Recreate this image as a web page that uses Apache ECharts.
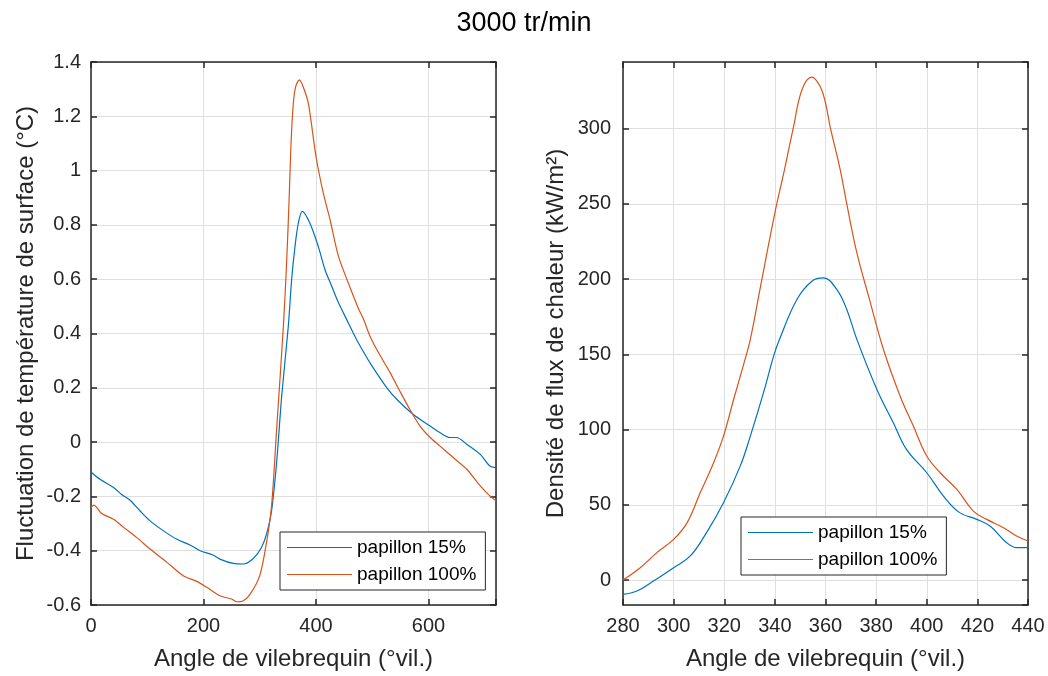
<!DOCTYPE html>
<html>
<head>
<meta charset="utf-8">
<script src="https://cdn.jsdelivr.net/npm/echarts@6/dist/echarts.min.js"></script>
<style>
html,body{margin:0;padding:0;background:#fff;}
#chart{width:1048px;height:676px;}
</style>
</head>
<body>
<div id="chart"></div>
<script>
// ---- Data ----
const seriesNames = ['papillon 15%', 'papillon 100%'];

// Left subplot: surface temperature fluctuation vs crank angle
const leftAngle15 = [0,16,40,55,69,87,105,129,152,176,194,217,229,253,271,289,303,312,321,330,339,350.8,356.7,362.7,368.6,375.7,389,404,416,428,440,457.5,472,481,496,526,544,573,603,620,638,650,668,692,709,720];
const leftTemp15  = [-0.11,-0.137,-0.167,-0.194,-0.213,-0.253,-0.29,-0.327,-0.357,-0.379,-0.40,-0.416,-0.431,-0.447,-0.449,-0.428,-0.388,-0.339,-0.253,-0.075,0.17,0.427,0.599,0.721,0.807,0.85,0.807,0.721,0.635,0.574,0.513,0.439,0.378,0.345,0.292,0.20,0.157,0.102,0.059,0.035,0.017,0.017,-0.008,-0.045,-0.088,-0.094];

const leftAngle100 = [0,5,19,40,58,81,105,135,164,188,206,229,250,259,270,283,300,312,321,330,342,348,352.6,355.6,359.7,364,370.4,377,386.4,400,413,425,440,457.5,475,484,496,508,532,549,567,585,603,620,644,668,692,709,720];
const leftTemp100  = [-0.241,-0.232,-0.263,-0.284,-0.314,-0.351,-0.394,-0.443,-0.492,-0.513,-0.535,-0.566,-0.578,-0.588,-0.585,-0.56,-0.492,-0.37,-0.235,0.047,0.427,0.672,0.917,1.10,1.248,1.31,1.334,1.31,1.248,1.052,0.917,0.819,0.684,0.586,0.494,0.455,0.39,0.341,0.255,0.188,0.12,0.059,0.017,-0.014,-0.057,-0.1,-0.161,-0.198,-0.216];

// Right subplot: heat flux density vs crank angle
const rightAngle15 = [280,285.5,292,300,306.6,313,319.7,326.3,330.3,335.5,339.5,341.8,348.7,354.6,359.2,364.5,368.4,372.4,380.3,386.8,392,400,406.6,413,419.8,425,431.6,435.5,440];
const rightFlux15  = [-9.5,-7.3,-0.7,8.2,16,31.5,51.4,75.7,95.6,124.5,148.8,159.9,186.4,198.6,200.8,193,179.8,159.9,126.7,104.5,86.8,71.3,55.8,44.8,40.3,35.9,24.8,21.5,21.5];

const rightAngle100 = [280,286.8,293.4,300,305.3,310.5,315.8,319.7,323.7,327.6,330.3,334.2,340,343.8,347.4,350.7,354.6,357.9,360,361.8,365.8,368.4,372.4,377.4,382.9,389.5,394.7,400,405.3,411.9,418.4,423.7,430.3,435.5,440];
const rightFlux100  = [0,8.2,18.2,27,38,58,78,95.6,120,143,160,194,244,272.8,301.5,325.9,334.3,328,317.1,301.5,272.8,250,217.4,186.4,153.2,122.2,102.3,82.4,71.3,60.2,45.8,40.3,34.8,29.2,25.9];

const titleText = '3000 tr/min';
const xName = 'Angle de vilebrequin (°vil.)';
const leftYName = 'Fluctuation de température de surface (°C)';
const rightYName = 'Densité de flux de chaleur (kW/m²)';

// ---- Styling ----
const AX = '#262626';
const GRIDC = '#dfdfdf';
const FONT = '"Liberation Sans", Arial, Helvetica, sans-serif';
const BLUE = '#0072BD';
const ORANGE = '#D95319';
const TICKFS = 20;
const NAMEFS = 24;

function zip(a, b) { return a.map((v, i) => [v, b[i]]); }

function mainAxisBase() {
  return {
    axisLine: { show: true, onZero: false, lineStyle: { color: AX, width: 1.5 } },
    axisTick: { show: true, inside: true, length: 6, lineStyle: { color: AX, width: 1.5 } },
    axisLabel: { color: AX, fontSize: TICKFS, fontFamily: FONT, margin: 11 },
    splitLine: { show: true, lineStyle: { color: GRIDC, width: 1 } },
    nameTextStyle: { color: AX, fontSize: NAMEFS, fontFamily: FONT },
    nameLocation: 'middle'
  };
}
function mirrorAxis(extra) {
  return Object.assign({
    axisLine: { show: true, onZero: false, lineStyle: { color: AX, width: 1.5 } },
    axisTick: { show: true, inside: true, length: 6, lineStyle: { color: AX, width: 1.5 } },
    axisLabel: { show: false },
    splitLine: { show: false }
  }, extra);
}

const fmtLeftY = v => {
  const r = Math.round(v * 10) / 10;
  if (Math.abs(v - r) > 1e-6) return '';
  return String(r);
};
const fmtMult = m => v => (Math.abs(v / m - Math.round(v / m)) < 1e-6 ? String(Math.round(v)) : '');

const lxCommon = { type: 'value', min: 0, max: 720, interval: 200 };
const lyCommon = { type: 'value', min: -0.6, max: 1.4, interval: 0.2 };
const rxCommon = { type: 'value', min: 280, max: 440, interval: 20 };
const ryCommon = { type: 'value', min: -16.6, max: 344.3, splitNumber: 7 };

function legendAt(left, top) {
  return {
    orient: 'vertical', left: left, top: top,
    data: seriesNames,
    icon: 'rect',
    itemWidth: 65, itemHeight: 1.2, itemGap: 8,
    padding: [6, 9, 6, 7],
    borderColor: AX, borderWidth: 1, backgroundColor: '#fff',
    textStyle: { color: '#000', fontSize: 19, fontFamily: FONT },
    selectedMode: false
  };
}

const option = {
  animation: false,
  backgroundColor: '#ffffff',
  title: {
    text: titleText, left: 'center', top: 5,
    textStyle: { color: '#000', fontSize: 27, fontWeight: 'normal', fontFamily: FONT }
  },
  grid: [
    { left: 91, top: 62, width: 405, height: 544, containLabel: false },
    { left: 623, top: 62, width: 405, height: 544, containLabel: false }
  ],
  xAxis: [
    Object.assign(mainAxisBase(), lxCommon, { gridIndex: 0, position: 'bottom', name: xName, nameGap: 42,
      axisLabel: { color: AX, fontSize: TICKFS, fontFamily: FONT, margin: 11, formatter: fmtMult(200) } }),
    mirrorAxis(Object.assign({}, lxCommon, { gridIndex: 0, position: 'top' })),
    Object.assign(mainAxisBase(), rxCommon, { gridIndex: 1, position: 'bottom', name: xName, nameGap: 42 }),
    mirrorAxis(Object.assign({}, rxCommon, { gridIndex: 1, position: 'top' }))
  ],
  yAxis: [
    Object.assign(mainAxisBase(), lyCommon, { gridIndex: 0, position: 'left', name: leftYName, nameGap: 53,
      axisLabel: { color: AX, fontSize: TICKFS, fontFamily: FONT, margin: 10, formatter: fmtLeftY } }),
    mirrorAxis(Object.assign({}, lyCommon, { gridIndex: 0, position: 'right' })),
    Object.assign(mainAxisBase(), ryCommon, { gridIndex: 1, position: 'left', name: rightYName, nameGap: 55,
      axisLabel: { color: AX, fontSize: TICKFS, fontFamily: FONT, margin: 12, formatter: fmtMult(50), showMinLabel: false, showMaxLabel: false } }),
    mirrorAxis(Object.assign({}, ryCommon, { gridIndex: 1, position: 'right' }))
  ],
  legend: [legendAt(280, 532), legendAt(741, 517)],
  series: [
    { name: seriesNames[0], type: 'line', xAxisIndex: 0, yAxisIndex: 0, data: zip(leftAngle15, leftTemp15),
      symbol: 'none', smooth: 0.3, lineStyle: { color: BLUE, width: 1.2 }, itemStyle: { color: BLUE }, z: 3 },
    { name: seriesNames[1], type: 'line', xAxisIndex: 0, yAxisIndex: 0, data: zip(leftAngle100, leftTemp100),
      symbol: 'none', smooth: 0.3, lineStyle: { color: ORANGE, width: 1.2 }, itemStyle: { color: ORANGE }, z: 3 },
    { name: seriesNames[0], type: 'line', xAxisIndex: 2, yAxisIndex: 2, data: zip(rightAngle15, rightFlux15),
      symbol: 'none', smooth: 0.4, lineStyle: { color: BLUE, width: 1.2 }, itemStyle: { color: BLUE }, z: 3 },
    { name: seriesNames[1], type: 'line', xAxisIndex: 2, yAxisIndex: 2, data: zip(rightAngle100, rightFlux100),
      symbol: 'none', smooth: 0.4, lineStyle: { color: ORANGE, width: 1.2 }, itemStyle: { color: ORANGE }, z: 3 }
  ]
};

const chart = echarts.init(document.getElementById('chart'), null, { renderer: 'canvas' });
chart.setOption(option);
</script>
</body>
</html>
